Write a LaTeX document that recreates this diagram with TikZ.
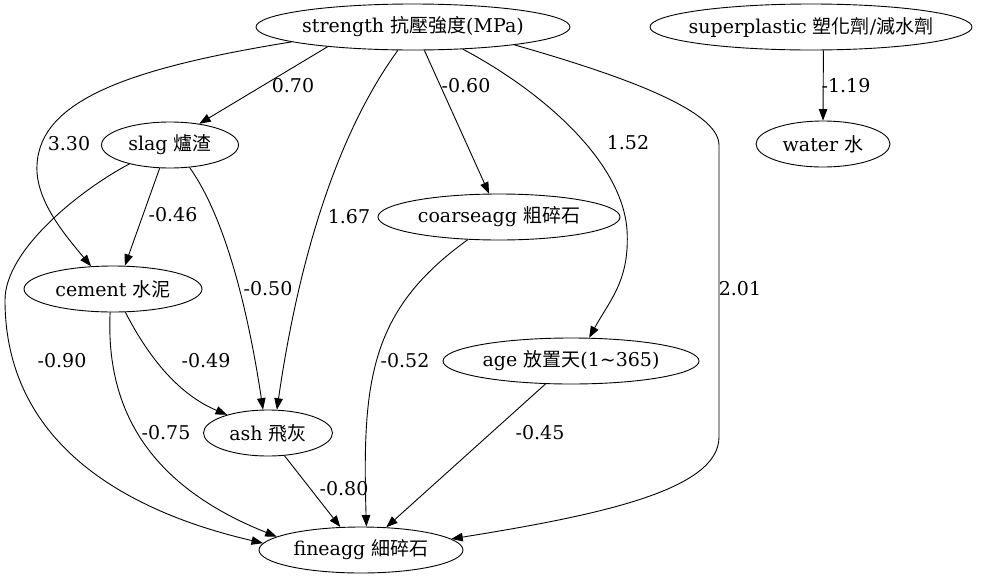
\documentclass[tikz,border=0pt]{standalone}
\usepackage{fontspec}
\setmainfont{DejaVu Serif}
\newfontfamily\zhfont{Noto Sans CJK TC}
\usetikzlibrary{shapes.geometric,arrows.meta}
\newcommand{\zh}[1]{{\zhfont #1}}
\tikzset{
  var/.style={ellipse, draw, line width=0.9pt, inner sep=0pt, minimum height=46pt},
  edge/.style={line width=0.9pt, -{Triangle[length=11.5pt,width=8.5pt]}},
  elabel/.style={inner sep=0pt}
}

\begin{document}
\begin{tikzpicture}[x=1pt, y=-1pt, font=\fontsize{19}{22}\selectfont]
  \useasboundingbox (0,0) rectangle (1002,579);

  % variables
  \node[var, minimum width=314pt] (strength) at (413,27) {strength \zh{抗壓強度}(MPa)};
  \node[var, minimum width=322pt, inner xsep=-9pt] (superplastic) at (811,27) {superplastic \zh{塑化劑}/\zh{減水劑}};
  \node[var, minimum width=137pt] (slag) at (170,145) {slag \zh{爐渣}};
  \node[var, minimum width=134pt] (water) at (823,144) {water \zh{水}};
  \node[var, minimum width=242pt] (coarseagg) at (499,217) {coarseagg \zh{粗碎石}};
  \node[var, minimum width=178pt] (cement) at (113,289) {cement \zh{水泥}};
  \node[var, minimum width=256pt] (age) at (571,361) {age \zh{放置天}(1\textasciitilde365)};
  \node[var, minimum width=129pt] (ash) at (268,433) {ash \zh{飛灰}};
  \node[var, minimum width=204pt] (fineagg) at (361,550) {fineagg \zh{細碎石}};

  % from strength
  \draw[edge] (strength.193) -- (slag.36) node[elabel] at (293,86) {0.70};
  \draw[edge] (strength.187) .. controls (130,68) and (40,100) .. (37,165)
                             .. controls (35,200) and (65,235) .. (cement.134)
                             node[elabel] at (69,144) {3.30};
  \draw[edge] (strength.237) .. controls (340,130) and (300,250) .. (ash.69)
                             node[elabel] at (349,217) {1.67};
  \draw[edge] (strength.296) -- (coarseagg.113) node[elabel] at (466,86) {-0.60};
  \draw[edge] (strength.336) .. controls (540,90) and (622,160) .. (627,230)
                             .. controls (630,280) and (610,300) .. (age.52)
                             node[elabel] at (628,143) {1.52};
  \draw[edge] (strength.350.5) .. controls (620,75) and (719,110) .. (719,145) -- (719,437)
                               .. controls (719,490) and (600,515) .. (fineagg.7)
                               node[elabel] at (740,289) {2.01};

  % from superplastic
  \draw[edge] (superplastic.298) -- (water.north) node[elabel] at (846,86) {-1.19};

  % from slag
  \draw[edge] (slag.246) -- (cement.63) node[elabel] at (173,215) {-0.46};
  \draw[edge] (slag.311) .. controls (220,210) and (245,290) .. (ash.102)
                         node[elabel] at (268,289) {-0.50};
  \draw[edge] (slag.205) .. controls (80,190) and (5,250) .. (5,300)
                         .. controls (5,440) and (120,510) .. (fineagg.176)
                         node[elabel] at (62,361) {-0.90};

  % from cement
  \draw[edge] (cement.298) .. controls (150,360) and (180,395) .. (ash.156)
                           node[elabel] at (206,361) {-0.49};
  \draw[edge] (cement.263) .. controls (105,420) and (160,490) .. (fineagg.171)
                           node[elabel] at (166,433) {-0.75};

  % into fineagg
  \draw[edge] (ash.306) -- (fineagg.132) node[elabel] at (344,489) {-0.80};
  \draw[edge] (coarseagg.216) .. controls (370,310) and (362,380) .. (fineagg.77)
                              node[elabel] at (405,361) {-0.52};
  \draw[edge] (age.222) -- (fineagg.42.5) node[elabel] at (540,433) {-0.45};
\end{tikzpicture}
\end{document}
